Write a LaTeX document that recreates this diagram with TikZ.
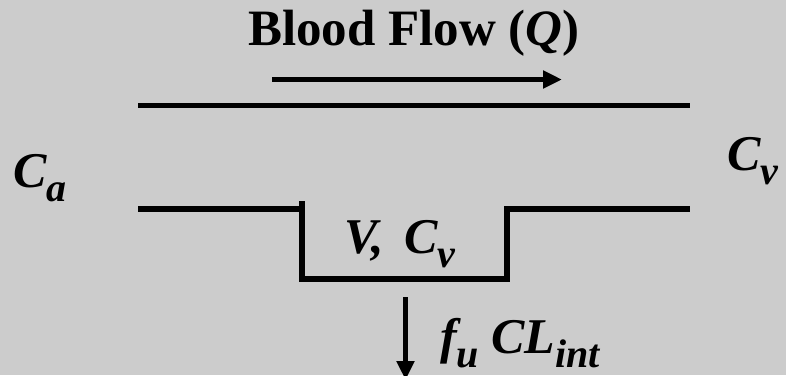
\documentclass[tikz,border=0pt]{standalone}
\usepackage{fontspec}
\setmainfont{Liberation Serif}
\usetikzlibrary{arrows.meta}
\definecolor{bg}{HTML}{CCCCCC}
\newcommand{\lsub}[1]{\raisebox{-14pt}{\fontsize{40}{40}\selectfont #1}}
\tikzset{
  wall/.style={line width=5.5pt, line cap=rect, line join=miter},
  flowarrow/.style={line width=5pt, -{Triangle[length=19pt,width=17pt]}},
  lbl/.style={inner sep=0pt, anchor=base west, font=\bfseries\itshape\fontsize{50}{54}\selectfont},
  ttl/.style={inner sep=0pt, anchor=base, font=\bfseries\fontsize{51}{55}\selectfont}
}
\begin{document}
\begin{tikzpicture}[x=1pt,y=-1pt]
\fill[bg] (0,0) rectangle (786,375);
\useasboundingbox (0,0) rectangle (786,375);
\node[ttl] (title) at (414,45) {Blood Flow (\textit{Q})};
\coordinate (fa1) at (272,79.5);
\coordinate (fa2) at (562,79.5);
\draw[flowarrow] (fa1) -- (fa2);
\coordinate (t1) at (141,105.5);
\coordinate (t2) at (687,105.5);
\draw[wall] (t1) -- (t2);
\coordinate (b1) at (141,209);
\coordinate (b2) at (302,209);
\coordinate (b2t) at (302,204);
\coordinate (b3) at (302,279);
\coordinate (b4) at (507,279);
\coordinate (b5) at (507,209);
\coordinate (b6) at (687,209);
\draw[wall] (b1) -- (b2);
\draw[wall] (b2t) -- (b3) -- (b4) -- (b5) -- (b6);
\node[lbl] (ca) at (13,187) {C\lsub{a}};
\node[lbl] (cv) at (727,170) {C\lsub{v}};
\node[lbl] (vol) at (344,253) {V,\hspace{8pt} C\lsub{v}};
\coordinate (d1) at (405.5,297);
\coordinate (d2) at (405.5,380);
\draw[flowarrow] (d1) -- (d2);
\node[lbl] (clr) at (440,353) {f\lsub{u} CL\lsub{int}};
\end{tikzpicture}
\end{document}
